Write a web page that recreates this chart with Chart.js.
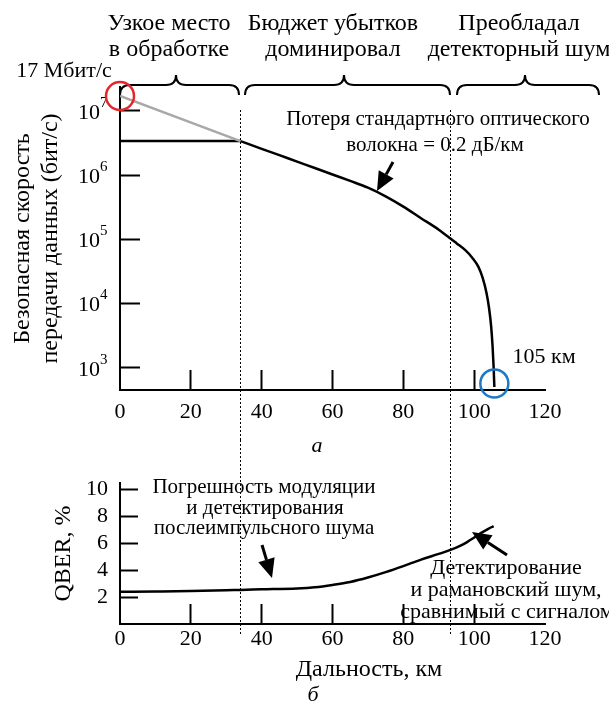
<!DOCTYPE html>
<html>
<head>
<meta charset="utf-8">
<script src="https://cdn.jsdelivr.net/npm/chart.js@4.4.1/dist/chart.umd.min.js"></script>
<style>
    html, body { margin: 0; padding: 0; background: #fff; }
    #wrap { position: relative; width: 609px; height: 704px; }
    #wrap canvas { position: absolute; left: 0; }
    #rate-chart { top: 0; }
    #qber-chart { top: 440px; }
</style>
</head>
<body>
<div id="wrap">
    <canvas id="rate-chart" width="609" height="440"></canvas>
    <canvas id="qber-chart" width="609" height="264"></canvas>
</div>
<script>
// secure key rate vs distance (a): flat part, then fibre loss
var plateau_km = [0, 34];
var plateau_bps = [3.38e6, 3.38e6];
var rate_km = [34, 40, 45, 50, 55, 60, 65, 70, 75, 80, 85, 90, 93.3, 95, 97.5, 99.5, 101.2, 102.4, 103.5, 104.2, 104.8, 105.2, 105.5, 105.7];
var rate_bps = [3.38e6, 2.56e6, 2.04e6, 1.62e6, 1.29e6, 1.02e6, 8.1e5, 6.37e5, 4.67e5, 3.23e5, 2.13e5, 1.41e5, 1.03e5, 8.7e4, 6.76e4, 5.13e4, 3.72e4, 2.51e4, 1.45e4, 8.5e3, 4.37e3, 2.14e3, 1.0e3, 500];
// loss-limited line from 17 Mbit/s
var limit_km = [0, 34];
var limit_bps = [1.7e7, 3.38e6];

// QBER vs distance (b)
var qber_km = [0, 10, 20, 30, 34, 40, 50, 55, 60, 65, 70, 75, 80, 85, 90, 93.3, 96, 98, 100, 102, 104, 105.5];
var qber_pct = [2.39, 2.41, 2.44, 2.50, 2.53, 2.57, 2.64, 2.73, 2.90, 3.12, 3.45, 3.85, 4.30, 4.78, 5.20, 5.50, 5.80, 6.08, 6.42, 6.76, 7.06, 7.27];

var km_ticks = [0, 20, 40, 60, 80, 100, 120];
var rate_ticks = [1e3, 1e4, 1e5, 1e6, 1e7];
var rate_tick_exps = ['3', '4', '5', '6', '7'];
var qber_ticks = [2, 4, 6, 8, 10];

var regime_edges_km = [34, 93.3];
var start_point = [0, 1.7e7];
var end_point = [105.7, 570];

var FONT = "'Liberation Serif', 'Times New Roman', serif";

function toPoints(xs, ys) {
    var pts = [];
    for (var i = 0; i < xs.length; i++) {
        pts.push({ x: xs[i], y: ys[i] });
    }
    return pts;
}

function txt(ctx, s, x, y, size, align, style) {
    ctx.save();
    ctx.font = (style || '') + ' ' + size + 'px ' + FONT;
    ctx.fillStyle = '#000';
    ctx.textAlign = align || 'center';
    ctx.textBaseline = 'middle';
    ctx.fillText(s, x, y);
    ctx.restore();
}

function drawArrow(ctx, x1, y1, x2, y2) {
    var ang = Math.atan2(y2 - y1, x2 - x1);
    var head = 19, half = 8.5;
    var bx = x2 - head * Math.cos(ang), by = y2 - head * Math.sin(ang);
    ctx.save();
    ctx.strokeStyle = '#000';
    ctx.fillStyle = '#000';
    ctx.lineWidth = 3;
    ctx.beginPath();
    ctx.moveTo(x1, y1);
    ctx.lineTo(bx, by);
    ctx.stroke();
    ctx.beginPath();
    ctx.moveTo(x2, y2);
    ctx.lineTo(bx + half * Math.sin(ang), by - half * Math.cos(ang));
    ctx.lineTo(bx - half * Math.sin(ang), by + half * Math.cos(ang));
    ctx.closePath();
    ctx.fill();
    ctx.restore();
}

function drawBrace(ctx, x1, x2, xm, y, h) {
    ctx.save();
    ctx.strokeStyle = '#000';
    ctx.lineWidth = 2;
    ctx.beginPath();
    ctx.moveTo(x1, y + h);
    ctx.quadraticCurveTo(x1, y, x1 + h, y);
    ctx.lineTo(xm - h, y);
    ctx.quadraticCurveTo(xm, y, xm, y - h);
    ctx.quadraticCurveTo(xm, y, xm + h, y);
    ctx.lineTo(x2 - h, y);
    ctx.quadraticCurveTo(x2, y, x2, y + h);
    ctx.stroke();
    ctx.restore();
}

function drawEdges(chart, yFrom, yTo) {
    var ctx = chart.ctx;
    var xs = chart.scales.x;
    ctx.save();
    ctx.strokeStyle = '#000';
    ctx.lineWidth = 1;
    ctx.setLineDash([2, 2]);
    regime_edges_km.forEach(function (km) {
        var px = Math.round(xs.getPixelForValue(km)) + 0.5;
        ctx.beginPath();
        ctx.moveTo(px, yFrom);
        ctx.lineTo(px, yTo);
        ctx.stroke();
    });
    ctx.restore();
}

function circleAt(ctx, x, y, color) {
    ctx.save();
    ctx.strokeStyle = color;
    ctx.lineWidth = 2.5;
    ctx.beginPath();
    ctx.arc(x, y, 14, 0, Math.PI * 2);
    ctx.stroke();
    ctx.restore();
}

var rateDecor = {
    id: 'rateDecor',
    afterDraw: function (chart) {
        var ctx = chart.ctx;
        var xs = chart.scales.x, ys = chart.scales.y;
        drawEdges(chart, 110, chart.height);

        // y tick labels with exponents
        rate_ticks.forEach(function (v, i) {
            var py = ys.getPixelForValue(v);
            txt(ctx, '10', 100, py + 2, 22, 'right');
            txt(ctx, rate_tick_exps[i], 100, py - 8, 15, 'left');
        });

        // regime braces and headers
        drawBrace(ctx, 120, 239, 176, 85, 10);
        drawBrace(ctx, 245, 450, 344, 85, 10);
        drawBrace(ctx, 457, 599, 525, 85, 10);
        txt(ctx, 'Узкое место', 169, 24, 24);
        txt(ctx, 'в обработке', 169, 50, 24);
        txt(ctx, 'Бюджет убытков', 333, 24, 24);
        txt(ctx, 'доминировал', 333, 50, 24);
        txt(ctx, 'Преобладал', 519, 24, 24);
        txt(ctx, 'детекторный шум', 519, 50, 24);
        txt(ctx, '17 Мбит/с', 64, 71, 22);

        circleAt(ctx, xs.getPixelForValue(start_point[0]), ys.getPixelForValue(start_point[1]), '#e5262c');
        circleAt(ctx, xs.getPixelForValue(end_point[0]), ys.getPixelForValue(end_point[1]), '#1f78c4');
        txt(ctx, '105 км', 544, 357, 22);

        txt(ctx, 'Потеря стандартного оптического', 438, 119, 21);
        txt(ctx, 'волокна = 0.2 дБ/км', 435, 145, 21);
        drawArrow(ctx, 393, 162, 377, 191);
    }
};

var qberDecor = {
    id: 'qberDecor',
    afterDraw: function (chart) {
        var ctx = chart.ctx;
        drawEdges(chart, 0, 196);

        txt(ctx, 'а', 317, 6, 22, 'center', 'italic');
        txt(ctx, 'Погрешность модуляции', 264, 47, 21);
        txt(ctx, 'и детектирования', 265, 68, 21);
        txt(ctx, 'послеимпульсного шума', 264, 88, 21);
        drawArrow(ctx, 262, 105, 272, 138);

        txt(ctx, 'Детектирование', 506, 128, 22);
        txt(ctx, 'и рамановский шум,', 506, 150, 22);
        txt(ctx, 'сравнимый с сигналом', 507, 172, 22);
        drawArrow(ctx, 507, 115, 472, 92);

        txt(ctx, 'Дальность, км', 369, 230, 24);
        txt(ctx, 'б', 313, 255, 22, 'center', 'italic');
    }
};

function xAxis(padding) {
    return {
        type: 'linear',
        min: 0,
        max: 120,
        afterBuildTicks: function (scale) {
            scale.ticks = km_ticks.map(function (v) { return { value: v }; });
        },
        grid: {
            drawOnChartArea: false,
            drawTicks: true,
            tickLength: -20,
            tickWidth: 2,
            tickColor: function (c) {
                return (c.tick && (c.tick.value === 0 || c.tick.value === 120)) ? 'rgba(0,0,0,0)' : '#000';
            }
        },
        border: { color: '#000', width: 2 },
        ticks: { color: '#000', padding: padding, maxRotation: 0, font: { family: FONT, size: 22 } }
    };
}

Chart.defaults.font.family = FONT;

var RateChart = new Chart(document.getElementById('rate-chart'), {
    type: 'line',
    data: {
        datasets: [{
            data: toPoints(limit_km, limit_bps),
            borderColor: '#a8a8a8',
            borderWidth: 2.5,
            pointRadius: 0
        }, {
            data: toPoints(plateau_km, plateau_bps),
            borderColor: '#000',
            borderWidth: 2.5,
            pointRadius: 0
        }, {
            data: toPoints(rate_km, rate_bps),
            borderColor: '#000',
            borderWidth: 2.5,
            pointRadius: 0,
            cubicInterpolationMode: 'monotone'
        }]
    },
    plugins: [rateDecor],
    options: {
        responsive: false,
        animation: false,
        layout: { padding: { left: 0, top: 87, right: 64, bottom: 0 } },
        plugins: { legend: false, tooltip: { enabled: false } },
        scales: {
            x: Object.assign(xAxis(29), {
                afterFit: function (scale) { scale.height = 50; }
            }),
            y: {
                type: 'logarithmic',
                min: 450,
                max: 2.35e7,
                afterBuildTicks: function (scale) {
                    scale.ticks = rate_ticks.map(function (v) { return { value: v }; });
                },
                afterFit: function (scale) { scale.width = 120; },
                grid: { drawOnChartArea: false, drawTicks: true, tickLength: -20, tickWidth: 2, tickColor: '#000' },
                border: { color: '#000', width: 2 },
                ticks: { callback: function () { return ''; } },
                title: {
                    display: true,
                    text: ['Безопасная скорость', 'передачи данных (бит/с)'],
                    color: '#000',
                    padding: { top: 8, bottom: 0 },
                    font: { family: FONT, size: 24, lineHeight: 1.2 }
                }
            }
        }
    }
});

var QberChart = new Chart(document.getElementById('qber-chart'), {
    type: 'line',
    data: {
        datasets: [{
            data: toPoints(qber_km, qber_pct),
            borderColor: '#000',
            borderWidth: 2.5,
            pointRadius: 0,
            cubicInterpolationMode: 'monotone'
        }]
    },
    plugins: [qberDecor],
    options: {
        responsive: false,
        animation: false,
        layout: { padding: { left: 0, top: 18, right: 64, bottom: 0 } },
        plugins: { legend: false, tooltip: { enabled: false } },
        scales: {
            x: Object.assign(xAxis(22), {
                afterFit: function (scale) { scale.height = 80; }
            }),
            y: {
                type: 'linear',
                min: 0,
                max: 10.45,
                afterBuildTicks: function (scale) {
                    scale.ticks = qber_ticks.map(function (v) { return { value: v }; });
                },
                afterFit: function (scale) { scale.width = 120; },
                grid: { drawOnChartArea: false, drawTicks: true, tickLength: -18, tickWidth: 2, tickColor: '#000' },
                border: { color: '#000', width: 2 },
                ticks: { color: '#000', padding: 30, font: { family: FONT, size: 22 } },
                title: {
                    display: true,
                    text: 'QBER, %',
                    color: '#000',
                    padding: { top: 49, bottom: 0 },
                    font: { family: FONT, size: 24, lineHeight: 1.2 }
                }
            }
        }
    }
});
</script>
</body>
</html>
